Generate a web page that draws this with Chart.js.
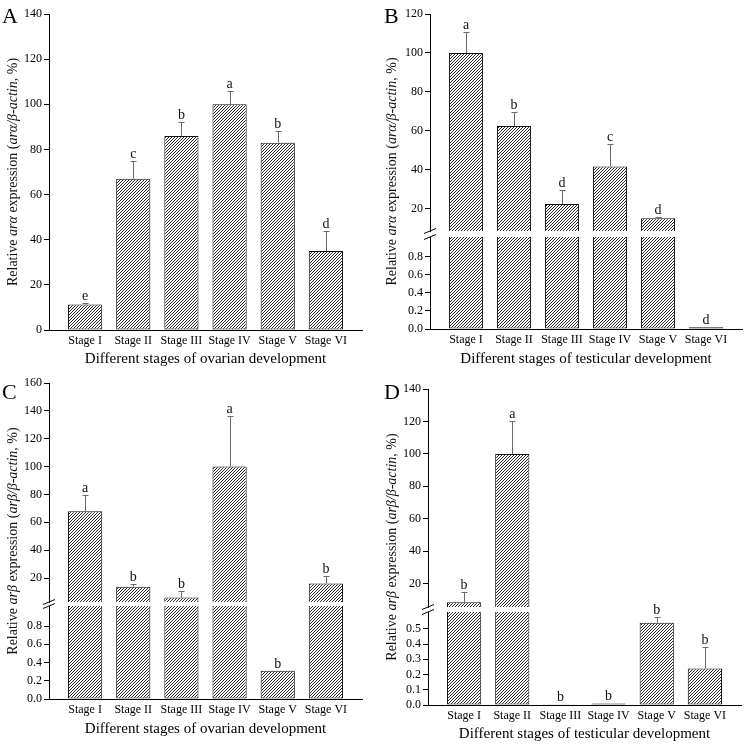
<!DOCTYPE html>
<html>
<head>
<meta charset="utf-8">
<script src="https://cdn.jsdelivr.net/npm/chart.js@4.4.1/dist/chart.umd.min.js"></script>
<style>
  html, body { margin: 0; padding: 0; background: #fff; }
  #wrap { position: relative; width: 748px; height: 747px; }
  canvas { position: absolute; }
</style>
</head>
<body>
<div id="wrap">
  <canvas id="pA" width="374" height="370" style="left:0;top:0"></canvas>
  <canvas id="pB" width="374" height="370" style="left:374px;top:0"></canvas>
  <canvas id="pC" width="374" height="377" style="left:0;top:370px"></canvas>
  <canvas id="pD" width="374" height="377" style="left:374px;top:370px"></canvas>
</div>
<script>
const stages = ['Stage I', 'Stage II', 'Stage III', 'Stage IV', 'Stage V', 'Stage VI'];

// A — arα, ovary
const araOvary = [11.3, 67, 86, 100, 83, 35];
const araOvarySd = [0.8, 8, 6, 6, 5.3, 8.7];
const araOvaryLetters = ['e', 'c', 'b', 'a', 'b', 'd'];
const ticksA = [0, 20, 40, 60, 80, 100, 120, 140];

// B — arα, testis (broken axis)
const araTestis = [100, 62.5, 22.5, 41.8, 15.2, 0.02];
const araTestisSd = [11, 7, 7.2, 11.4, 0.6, 0];
const araTestisLetters = ['a', 'b', 'd', 'c', 'd', 'd'];
const ticksBTop = [20, 40, 60, 80, 100, 120];
const ticksBLow = [0, 0.2, 0.4, 0.6, 0.8];

// C — arβ, ovary (broken axis)
const arbOvary = [68, 13.8, 6, 100, 0.31, 16];
const arbOvarySd = [11.5, 1.6, 4.8, 36.5, 0, 5.6];
const arbOvaryLetters = ['a', 'b', 'b', 'a', 'b', 'b'];
const ticksCTop = [20, 40, 60, 80, 100, 120, 140, 160];
const ticksCLow = [0, 0.2, 0.4, 0.6, 0.8];

// D — arβ, testis (broken axis)
const arbTestis = [8.5, 100, 0.005, 0.01, 0.54, 0.24];
const arbTestisSd = [6.2, 20.5, 0, 0, 0.04, 0.14];
const arbTestisLetters = ['b', 'a', 'b', 'b', 'b', 'b'];
const ticksDTop = [20, 40, 60, 80, 100, 120, 140];
const ticksDLow = [0, 0.1, 0.2, 0.3, 0.4, 0.5];

const SERIF = '"Liberation Serif", "Times New Roman", serif';
const tickFont = { family: SERIF, size: 12 };

function hatch(ctx) {
  const t = document.createElement('canvas');
  t.width = 3; t.height = 3;
  const g = t.getContext('2d');
  g.fillStyle = '#fff';
  g.fillRect(0, 0, 3, 3);
  g.fillStyle = '#2a2a2a';
  for (let i = 0; i < 3; i++) g.fillRect(i, 2 - i, 1, 1);
  return ctx.createPattern(t, 'repeat');
}

function yTitle(greek) {
  return [['Relative ', false], ['ar' + greek, true], [' expression (', false],
          ['ar' + greek + '/β-actin', true], [', %)', false]];
}

function annotator(cfg) {
  const b = cfg.box;
  return {
    id: 'annot',
    afterDatasetsDraw(chart) {
      const { ctx, scales } = chart;
      ctx.save();
      cfg.values.forEach((v, i) => {
        const ax = cfg.top && v > cfg.top.min ? scales.yt : scales.yb;
        const px = scales.x.getPixelForValue(i);
        const yv = ax.getPixelForValue(v);
        const ye = ax.getPixelForValue(v + cfg.sd[i]);
        if (cfg.sd[i] > 0) {
          const lx = Math.round(px) + 0.5, ly = Math.round(ye) + 0.5;
          ctx.strokeStyle = '#6a6a6a';
          ctx.lineWidth = 1;
          ctx.beginPath();
          ctx.moveTo(lx, yv);
          ctx.lineTo(lx, ly);
          ctx.moveTo(lx - 3, ly);
          ctx.lineTo(lx + 3, ly);
          ctx.stroke();
        }
        ctx.fillStyle = '#111';
        ctx.font = '14px ' + SERIF;
        ctx.textAlign = 'center';
        ctx.textBaseline = 'alphabetic';
        ctx.fillText(cfg.letters[i], px, Math.min(ye, yv) - 3);
      });
      ctx.restore();
    },
    afterDraw(chart) {
      const { ctx, chartArea: a, scales } = chart;
      // y axis title with italic gene names
      ctx.save();
      ctx.translate(b.yTitleX, (a.top + a.bottom) / 2);
      ctx.rotate(-Math.PI / 2);
      ctx.fillStyle = '#111';
      ctx.textBaseline = 'middle';
      ctx.textAlign = 'left';
      const segs = yTitle(cfg.greek);
      const fontOf = it => (it ? 'italic ' : '') + '14px ' + SERIF;
      let total = 0;
      segs.forEach(([t, it]) => { ctx.font = fontOf(it); total += ctx.measureText(t).width; });
      let x = -total / 2;
      segs.forEach(([t, it]) => { ctx.font = fontOf(it); ctx.fillText(t, x, 0); x += ctx.measureText(t).width; });
      ctx.restore();

      // panel letter
      ctx.save();
      ctx.fillStyle = '#000';
      ctx.font = '22px ' + SERIF;
      ctx.textAlign = 'left';
      ctx.textBaseline = 'alphabetic';
      ctx.fillText(cfg.panel, b.letterX, b.letterY);

      // break marks on the y axis
      if (scales.yg) {
        const L = a.left;
        ctx.strokeStyle = '#000';
        ctx.lineWidth = 1;
        ctx.beginPath();
        [scales.yg.top, scales.yg.bottom].forEach(y => {
          ctx.moveTo(L - 6, y + 2.5);
          ctx.lineTo(L + 6, y - 2.5);
        });
        ctx.stroke();
      }
      ctx.restore();
    }
  };
}

function makePanel(id, cfg) {
  const canvas = document.getElementById(id);
  const ctx = canvas.getContext('2d');
  const W = canvas.width, H = canvas.height;
  const b = cfg.box;
  const pattern = hatch(ctx);

  const yAxis = (min, max, tickVals, fmt, extra) => Object.assign({
    type: 'linear', position: 'left', min: min, max: max,
    afterBuildTicks: s => { s.ticks = tickVals.map(v => ({ value: v })); },
    afterFit: s => { s.width = b.left; },
    ticks: { font: tickFont, color: '#000', padding: 2, autoSkip: false, callback: fmt },
    grid: { drawOnChartArea: false, drawTicks: true, tickLength: 5, color: '#000', lineWidth: 1 },
    border: { display: true, color: '#000', width: 1 }
  }, extra);

  const scales = {
    x: {
      type: 'linear', min: -0.75, max: 5.75, offset: false,
      afterBuildTicks: s => { s.ticks = stages.map((_, i) => ({ value: i })); },
      afterFit: s => { s.height = b.titleY + 10 - b.bottom; },
      ticks: { font: tickFont, color: '#000', padding: 4, autoSkip: false, maxRotation: 0,
               callback: v => stages[v] },
      grid: { display: false, drawTicks: false, tickLength: 0, offset: false },
      border: { display: true, color: '#000', width: 1 },
      title: { display: true, text: 'Different stages of ' + cfg.tissue + ' development',
               font: { family: SERIF, size: 15 }, color: '#000', padding: { top: 0, bottom: 1 } }
    }
  };

  const barStyle = {
    backgroundColor: pattern, borderColor: '#111', borderWidth: 1,
    grouped: false, barPercentage: 0.71, categoryPercentage: 1
  };
  const datasets = [];

  if (cfg.top) {
    const lowMax = cfg.low.max, topMin = cfg.top.min;
    scales.yb = yAxis(0, lowMax, cfg.low.ticks, v => v.toFixed(1),
      { stack: 'v', stackWeight: b.lowH, weight: 1 });
    scales.yg = { type: 'linear', display: false, position: 'left', min: 0, max: 1,
      stack: 'v', stackWeight: b.gapH, weight: 2, afterFit: s => { s.width = b.left; } };
    scales.yt = yAxis(topMin, cfg.top.max, cfg.top.ticks, v => String(v),
      { stack: 'v', stackWeight: b.topH, weight: 3 });
    datasets.push(Object.assign({
      yAxisID: 'yb',
      data: cfg.values.map((v, i) => ({ x: i, y: [0, Math.min(v, lowMax)] })),
      borderSkipped: c => (cfg.values[c.raw.x] > lowMax ? 'end' : false)
    }, barStyle));
    datasets.push(Object.assign({
      yAxisID: 'yt',
      data: cfg.values.map((v, i) => ({ x: i, y: [topMin, v] })).filter(d => d.y[1] > topMin),
      borderSkipped: 'start'
    }, barStyle));
  } else {
    scales.yb = yAxis(0, cfg.low.max, cfg.low.ticks, v => String(v), {});
    datasets.push(Object.assign({
      yAxisID: 'yb',
      data: cfg.values.map((v, i) => ({ x: i, y: v })),
      borderSkipped: false
    }, barStyle));
  }

  new Chart(canvas, {
    type: 'bar',
    data: { datasets: datasets },
    options: {
      responsive: false,
      animation: false,
      devicePixelRatio: 1,
      layout: { padding: { left: 0, top: b.top, right: W - b.right, bottom: H - (b.titleY + 10) } },
      plugins: { legend: { display: false }, tooltip: { enabled: false } },
      scales: scales
    },
    plugins: [annotator(cfg)]
  });
}

makePanel('pA', {
  panel: 'A', greek: 'α', tissue: 'ovarian',
  values: araOvary, sd: araOvarySd, letters: araOvaryLetters,
  low: { max: 140, ticks: ticksA }, top: null,
  box: { left: 49, right: 362, top: 14, bottom: 330, titleY: 359, yTitleX: 13, letterX: 2, letterY: 23 }
});

makePanel('pB', {
  panel: 'B', greek: 'α', tissue: 'testicular',
  values: araTestis, sd: araTestisSd, letters: araTestisLetters,
  low: { max: 1.02, ticks: ticksBLow }, top: { min: 8.7, max: 120, ticks: ticksBTop },
  box: { left: 56, right: 368, top: 14, bottom: 329, titleY: 359, yTitleX: 18, letterX: 10, letterY: 23,
         topH: 217, gapH: 6, lowH: 92 }
});

makePanel('pC', {
  panel: 'C', greek: 'β', tissue: 'ovarian',
  values: arbOvary, sd: arbOvarySd, letters: arbOvaryLetters,
  low: { max: 1.02, ticks: ticksCLow }, top: { min: 2.8, max: 160, ticks: ticksCTop },
  box: { left: 49, right: 362, top: 13, bottom: 329, titleY: 359, yTitleX: 13, letterX: 2, letterY: 29,
         topH: 219, gapH: 4, lowH: 93 }
});

makePanel('pD', {
  panel: 'D', greek: 'β', tissue: 'testicular',
  values: arbTestis, sd: arbTestisSd, letters: arbTestisLetters,
  low: { max: 0.61, ticks: ticksDLow }, top: { min: 5.6, max: 140, ticks: ticksDTop },
  box: { left: 54, right: 367, top: 19, bottom: 335, titleY: 364, yTitleX: 18, letterX: 10, letterY: 29,
         topH: 218, gapH: 5, lowH: 93 }
});
</script>
</body>
</html>
